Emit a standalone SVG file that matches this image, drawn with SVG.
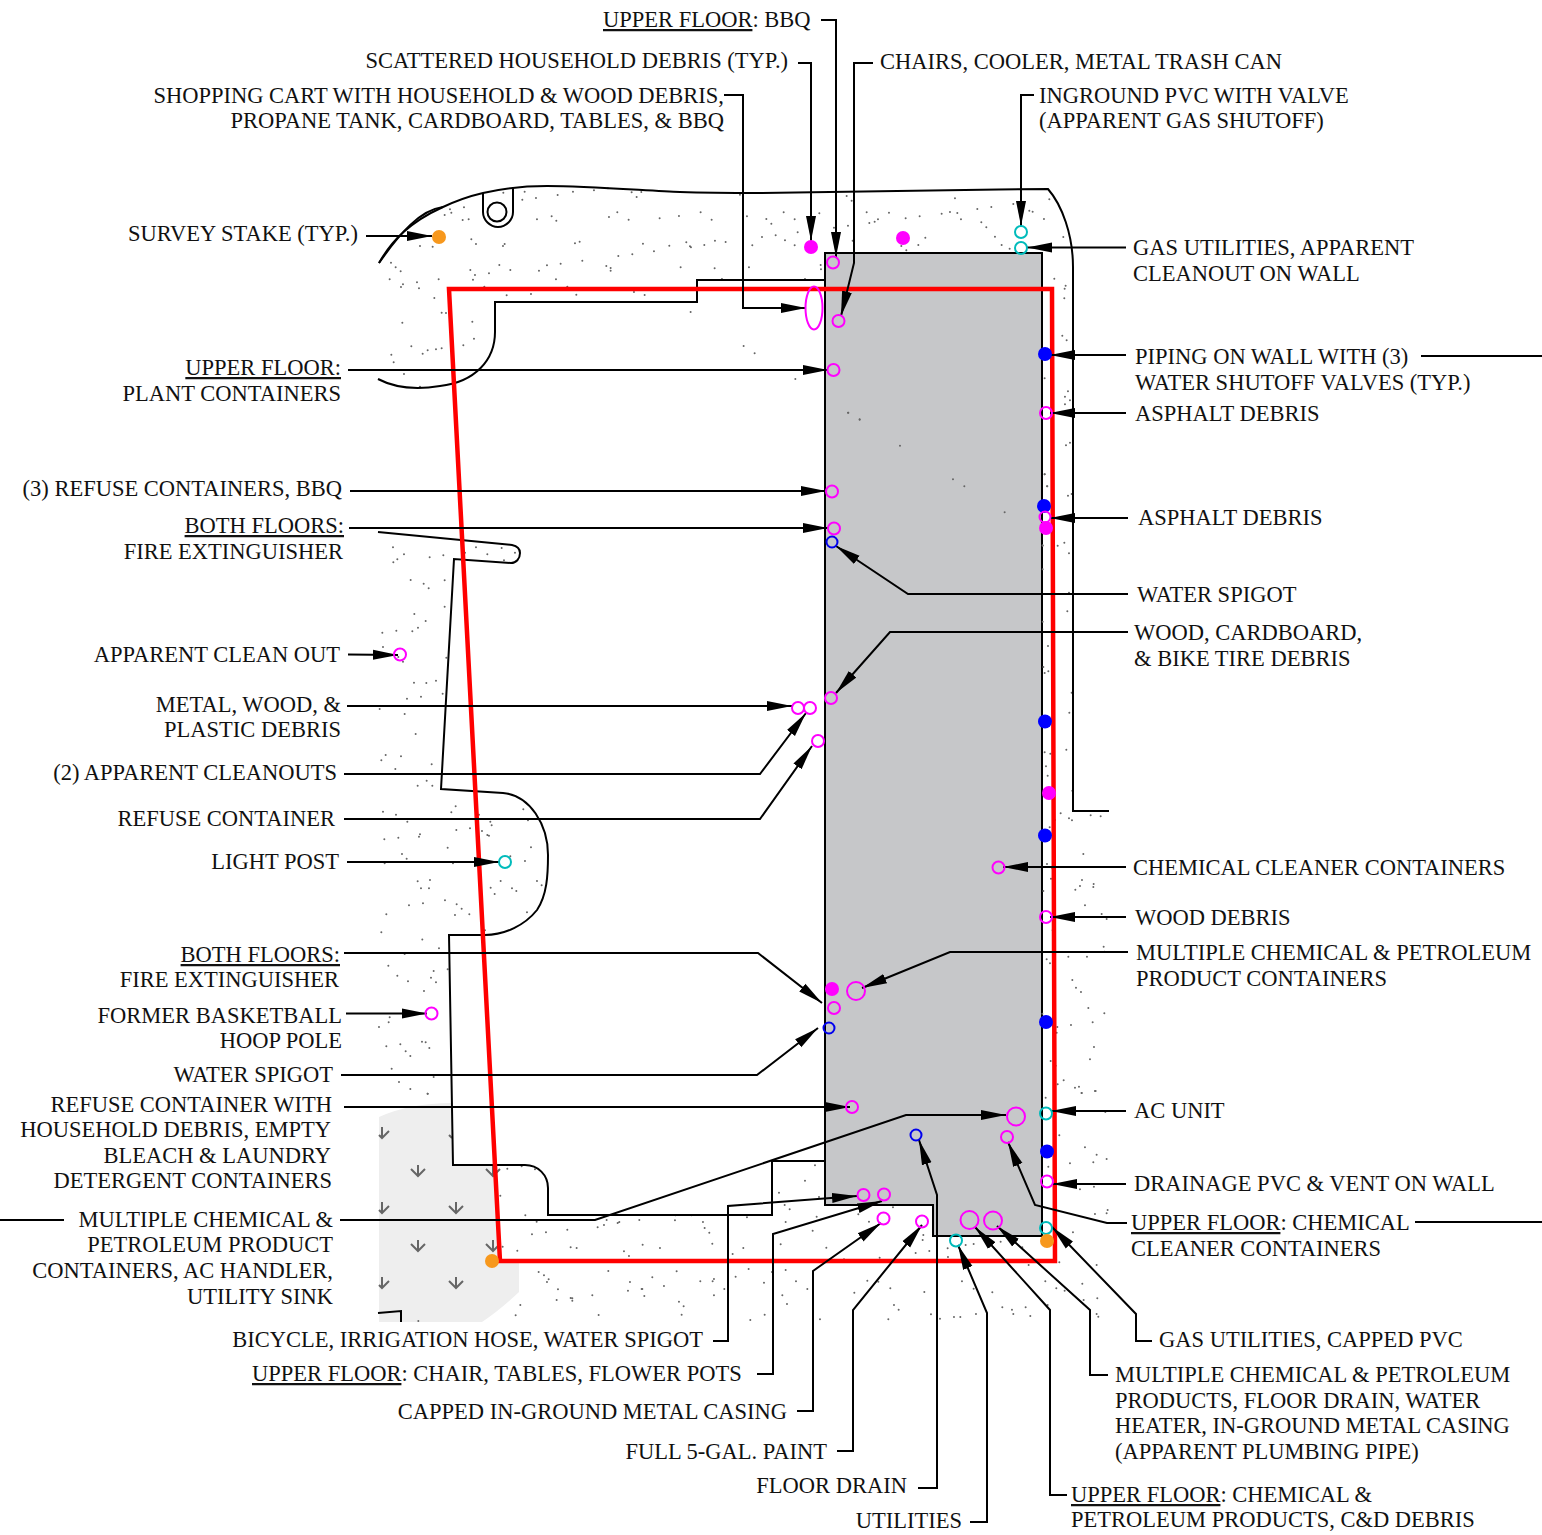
<svg xmlns="http://www.w3.org/2000/svg" width="1542" height="1535" viewBox="0 0 1542 1535">
<style>
text{font-family:"Liberation Serif","Times New Roman",serif;font-size:22.5px;fill:#111}
.e{text-anchor:end}
.u{text-decoration:underline}
.ln{fill:none;stroke:#000;stroke-width:2}
.ar{fill:none;stroke:#000;stroke-width:2;marker-end:url(#ah)}
.dg{fill:none;stroke:#666;stroke-width:6;stroke-linecap:round}
.ga{fill:none;stroke:#666;stroke-width:2}
.m{fill:none;stroke:#f0f;stroke-width:2}
.t{fill:none;stroke:#0bb;stroke-width:2}
.b{fill:none;stroke:#00e;stroke-width:2}
.mf{fill:#f0f}.bf{fill:#00f}.of{fill:#f7981d}
</style>
<defs>
<marker id="ah" markerUnits="userSpaceOnUse" markerWidth="26" markerHeight="12" refX="25" refY="6" orient="auto"><path d="M0,1 L25,6 L0,11 Z" fill="#000"/></marker>
</defs>
<g id="site">
<path d="M825,253H1042V1236H933V1205H825Z" fill="#c6c7c9" stroke="#000" stroke-width="2"/>
<path d="M379,1117Q410,1103 452,1103V1165H495L500,1261H519V1292Q500,1310 482,1322H379Z" fill="#eee"/>
<path class="ga" d="M382,1127V1138M379,1135L382,1138L389,1131M418,1165V1176M411,1169L418,1176L425,1169M493,1165V1176M486,1169L493,1176L500,1169M382,1202V1213M379,1210L382,1213L389,1206M456,1202V1213M449,1206L456,1213L463,1206M418,1240V1251M411,1244L418,1251L425,1244M493,1240V1251M486,1244L493,1251L500,1244M382,1277V1288M379,1285L382,1288L389,1281M456,1277V1288M449,1281L456,1288L463,1281M449,1135L452,1138"/>
<path class="dg" transform="translate(360,170) scale(.3333)" d="M430,68h0M494,65h0M487,89h0M528,84h0M593,75h0M639,65h0M702,61h0M744,55h0M815,67h0M844,66h0M830,81h0M1140,74h0M1161,139h0M270,118h0M312,112h0M274,128h0M254,135h0M308,150h0M326,148h0M531,148h0M575,139h0M589,152h0M747,141h0M772,127h0M806,149h0M899,145h0M957,138h0M1022,127h0M1055,149h0M334,208h0M348,222h0M180,228h0M218,230h0M429,228h0M434,222h0M645,220h0M659,215h0M849,221h0M979,217h0M990,229h0M993,232h0M1033,225h0M1065,212h0M1097,216h0M1177,226h0M928,227h0M882,244h0M817,253h0M775,258h0M667,272h0M602,281h0M561,286h0M537,302h0M451,300h0M418,285h0M387,310h0M331,300h0M345,315h0M339,329h0M236,328h0M93,278h0M107,292h0M122,304h0M89,328h0M129,343h0M123,351h0M171,337h0M177,355h0M223,384h0M588,328h0M739,288h0M752,294h0M752,302h0M962,292h0M1064,295h0M1167,292h0M1086,327h0M373,350h0M622,350h0M440,376h0M513,372h0M649,374h0M822,366h0M854,375h0M992,426h0M245,428h0M258,429h0M127,458h0M337,455h0M342,506h0M310,526h0M154,529h0M245,535h0M228,538h0M203,541h0M188,551h0M94,554h0M101,577h0M132,612h0M180,650h0M1151,528h0M1184,550h0"/>
<path class="dg" transform="translate(760,170) scale(.3333)" d="M260,78h0M275,92h0M71,127h0M178,130h0M19,147h0M34,161h0M104,148h0M113,187h0M47,196h0M6,201h0M75,211h0M104,226h0M222,173h0M264,167h0M278,212h0M182,285h0M183,298h0M135,327h0M320,127h0M387,128h0M328,159h0M344,155h0M354,148h0M437,145h0M479,139h0M545,131h0M570,126h0M592,129h0M603,148h0M652,117h0M694,111h0M585,85h0M760,102h0M808,122h0M818,125h0M852,147h0M868,88h0M664,157h0M679,172h0M705,200h0M725,225h0M749,236h0M910,201h0M496,203h0M475,225h0M424,228h0M439,241h0M883,326h0M917,347h0M914,356h0M913,385h0M907,497h0M920,511h0M854,625h0M924,664h0M915,680h0M930,691h0M915,703h0M106,627h0M264,728h0M299,748h0"/>
<path class="dg" transform="translate(360,1090) scale(.3333)" d="M203,11h0M442,236h0M485,229h0M525,238h0M421,317h0M496,376h0M530,395h0M622,419h0M516,433h0M558,427h0M740,390h0M732,405h0M713,412h0M773,399h0M778,396h0M838,390h0M945,391h0M947,376h0M994,376h0M1029,396h0M1034,414h0M1048,428h0M1057,461h0M1161,382h0M1118,492h0M1150,474h0M900,474h0M848,464h0M792,484h0M807,498h0M632,472h0M650,474h0M472,482h0M428,470h0M536,546h0M552,556h0M566,568h0M561,576h0M594,598h0M590,630h0M632,624h0M637,625h0M637,632h0M697,616h0M745,543h0M810,576h0M804,602h0M845,597h0M847,597h0M853,618h0M877,562h0M912,588h0M950,544h0M957,635h0M971,649h0M965,674h0M1021,574h0M1058,574h0M1062,567h0M1093,597h0M1062,616h0M1127,560h0M1166,537h0M1171,690h0M716,675h0M481,645h0M467,676h0M175,693h0"/>
<path class="dg" transform="translate(760,1090) scale(.3333)" d="M165,226h0M135,272h0M57,308h0M177,321h0M74,345h0M89,358h0M170,380h0M77,396h0M295,373h0M327,395h0M399,352h0M158,422h0M62,463h0M199,473h0M359,503h0M293,511h0M252,508h0M467,489h0M490,435h0M488,450h0M508,483h0M563,475h0M564,501h0M617,465h0M641,462h0M722,455h0M765,443h0M787,472h0M806,525h0M898,517h0M939,427h0M1005,372h0M1040,370h0M1043,360h0M975,172h0M1010,194h0M1040,207h0M1000,217h0M930,220h0M865,230h0M898,136h0M965,9h0M1005,3h0M960,298h0M1002,290h0M77,540h0M36,546h0M108,574h0M12,578h0M142,597h0M67,616h0M81,642h0M14,674h0M180,688h0M322,572h0M355,575h0M283,608h0M391,595h0M402,645h0M416,659h0M385,688h0M493,606h0M513,673h0M540,686h0M582,681h0M601,681h0M606,574h0M641,596h0M697,607h0M648,672h0M727,652h0M756,659h0M760,672h0M797,652h0M811,678h0M856,574h0M889,595h0M914,602h0M967,581h0M971,630h0M1012,625h0M1010,525h0M863,645h0M1010,672h0M1015,680h0"/>
<path class="dg" transform="translate(370,520) scale(.3333)" d="M69,82h0M102,103h0M82,118h0M70,127h0M179,112h0M220,106h0M285,98h0M318,82h0M352,103h0M395,84h0M435,98h0M402,121h0M122,180h0M161,191h0M176,205h0M224,181h0M224,260h0M133,282h0M167,303h0M144,323h0M127,334h0M79,332h0M37,338h0M39,381h0M85,411h0M99,425h0M229,413h0M198,482h0M169,489h0M132,488h0M218,521h0M153,530h0M111,536h0M29,567h0M104,582h0M137,642h0M47,705h0M34,721h0M93,709h0M76,747h0M185,733h0M170,782h0M143,797h0M187,797h0M39,875h0M78,884h0M112,905h0M244,877h0M257,859h0M327,884h0M361,905h0M365,916h0M460,868h0M474,901h0M300,925h0M259,930h0M336,933h0M352,945h0M357,947h0M43,958h0M85,953h0M147,950h0M150,943h0M233,983h0M483,982h0M96,1002h0M110,1016h0M44,1030h0M249,1030h0M421,1009h0M465,1023h0M143,1084h0M180,1080h0M153,1105h0M177,1105h0M392,1083h0M362,1103h0M374,1122h0M426,1105h0M439,1113h0M501,1083h0M515,1096h0M225,1141h0M117,1156h0M159,1150h0M260,1153h0M275,1166h0M255,1185h0M298,1183h0M49,1183h0M471,1177h0M34,1237h0M345,1231h0M157,1259h0M207,1285h0M104,1300h0"/>
<path class="dg" transform="translate(1000,720) scale(.3333)" d="M199,89h0M134,97h0M151,101h0M138,139h0M143,167h0M217,212h0M182,280h0M165,300h0M207,295h0M216,301h0M272,286h0M302,289h0M149,322h0M250,402h0M141,432h0M157,445h0M153,476h0M246,480h0M240,498h0M226,509h0M281,492h0M280,501h0M130,513h0M255,556h0M305,582h0M320,597h0M158,631h0M311,680h0M314,695h0M140,718h0M150,730h0M205,710h0M261,710h0M163,784h0M217,780h0M228,803h0M243,816h0M265,864h0M313,880h0M127,881h0M278,907h0M213,915h0M172,921h0M170,938h0M163,903h0M282,981h0M270,1018h0M152,1023h0M167,1037h0M173,1093h0M191,1081h0M225,1103h0M237,1100h0M245,1119h0M287,1113h0M137,1133h0M275,1173h0M316,1176h0"/>
<path class="dg" transform="translate(370,950) scale(.3333)" d="M104,12h0M55,47h0M82,77h0M114,94h0M191,63h0M233,58h0M183,83h0M198,97h0M162,123h0M59,202h0M56,217h0M27,231h0M49,289h0M91,283h0M107,304h0M121,318h0M156,275h0M167,277h0M178,294h0M65,356h0M191,381h0M87,396h0M121,417h0M173,431h0"/>
<path class="dg" transform="translate(1040,410) scale(.3333)" d="M78,106h0M90,98h0M14,193h0M21,229h0M84,257h0M95,252h0M8,407h0M53,407h0M73,398h0M87,430h0M8,478h0M87,548h0M40,609h0M82,604h0M8,635h0M24,708h0M10,771h0M14,789h0M25,784h0M95,848h0M88,908h0"/>
<path class="dg" transform="translate(820,400) scale(.3333)" d="M85,38h0M119,59h0M240,137h0M399,238h0M433,259h0M554,337h0M674,223h0M682,259h0M668,436h0"/>
<path class="ln" d="M379,263C400,233 420,210 443,207"/>
<path class="ln" d="M379,263C392,240 410,222 443,207C460,199 470,196 483,193C500,189 520,186 547,186C590,186 650,191 680,192C710,193 730,193 760,193C850,192 950,190 1048,189C1062,205 1073,235 1073,267V811H1109"/>
<path class="ln" d="M483,193V212C483,220 490,227 498,227C506,227 513,220 513,212V188"/>
<circle class="ln" cx="497" cy="212" r="9.5"/>
<path class="ln" d="M825,280H697V302H495V332C495,360 475,382 440,386C415,390 395,388 378,379"/>
<path class="ln" d="M378,532L512,545C517,546 520,549 520,553C520,559 516,563 511,563L454,559L441,789L503,793C530,795 548,825 548,855C548,875 547,895 537,910C525,925 505,935 485,935H449L453,1165H525C538,1165 548,1175 548,1188V1215H772V1161H825"/>
<path class="ln" d="M378,1313L401,1311V1322"/>
<path d="M449,289H1052L1055,1261H500Z" fill="none" stroke="#f00" stroke-width="4.5"/>
</g>
<g id="connectors">
<path class="ar" d="M821,20H836V257"/>
<path class="ar" d="M798,63H811V241"/>
<path class="ar" d="M873,63H854V263L841,316"/>
<path class="ar" d="M724,95H743V308H806"/>
<path class="ar" d="M1034,95H1021V226"/>
<path class="ar" d="M1126,247.500H1027"/>
<path class="ar" d="M1126,355H1050"/>
<path class="ln" d="M1421,356H1542"/>
<path class="ar" d="M1126,413H1050"/>
<path class="ar" d="M348,370H828"/>
<path class="ar" d="M350,491H826"/>
<path class="ar" d="M349,528H828"/>
<path class="ar" d="M1128,518H1050"/>
<path class="ar" d="M1128,594H908L836,546"/>
<path class="ar" d="M1128,632H890L836,693"/>
<path class="ar" d="M348,654.500L398,655"/>
<path class="ar" d="M347,706H792"/>
<path class="ar" d="M344,774H760L806,713"/>
<path class="ar" d="M344,819H760L812,746"/>
<path class="ar" d="M347,862H499"/>
<path class="ar" d="M1126,867H1003"/>
<path class="ar" d="M1126,917H1050"/>
<path class="ar" d="M1128,952H950L862,988"/>
<path class="ar" d="M344,953H758L822,1003"/>
<path class="ar" d="M346,1013.500H427"/>
<path class="ar" d="M341,1075H757L818,1028"/>
<path class="ar" d="M344,1107H850"/>
<path class="ar" d="M1126,1111H1051"/>
<path class="ln" d="M0,1220H64"/>
<path class="ar" d="M340,1220H595L906,1115H1006"/>
<path class="ar" d="M1126,1184H1052"/>
<path class="ar" d="M1127,1223H1107L1035,1205L1008,1142"/>
<path class="ln" d="M1415,1222H1542"/>
<path class="ar" d="M1152,1341H1136V1314L1052,1227"/>
<path class="ar" d="M1108,1375H1090V1310L997,1226"/>
<path class="ar" d="M1067,1495H1050V1310L975,1227"/>
<path class="ar" d="M970,1522H987V1313L958,1245"/>
<path class="ar" d="M918,1488H937V1195L919,1140"/>
<path class="ar" d="M837,1451H853V1310L922,1225"/>
<path class="ar" d="M797,1411H813V1271L881,1223"/>
<path class="ar" d="M757,1374H773V1234L882,1201"/>
<path class="ar" d="M713,1341H728V1206L857,1196"/>
<path class="ar" d="M366,236H432"/>
</g>
<g id="sym-1"><circle class="m" cx="833" cy="262.500" r="6"/></g>
<g id="sym-2"><circle class="m" cx="838.500" cy="321" r="6"/></g>
<g id="sym-3"><circle class="m" cx="833.500" cy="370" r="6"/></g>
<g id="sym-4"><ellipse class="m" cx="814" cy="308" rx="8.500" ry="21.500"/></g>
<g id="sym-5"><circle class="mf" cx="811" cy="247" r="7"/></g>
<g id="sym-6"><circle class="mf" cx="903" cy="238" r="7"/></g>
<g id="sym-7"><circle class="t" cx="1021" cy="232" r="6"/></g>
<g id="sym-8"><circle class="t" cx="1021" cy="248" r="6"/></g>
<g id="sym-9"><circle class="bf" cx="1045" cy="354" r="7"/></g>
<g id="sym-10"><circle class="m" cx="1046" cy="413" r="6"/></g>
<g id="sym-11"><circle class="m" cx="832" cy="491.500" r="6"/></g>
<g id="sym-12"><circle class="m" cx="834" cy="528.500" r="6"/></g>
<g id="sym-13"><circle class="b" cx="832" cy="542" r="5.500"/></g>
<g id="sym-14"><circle class="bf" cx="1044" cy="506" r="7"/></g>
<g id="sym-15"><circle class="m" cx="1045" cy="517" r="5.500"/></g>
<g id="sym-16"><circle class="mf" cx="1046" cy="528" r="7"/></g>
<g id="sym-17"><circle class="m" cx="400" cy="654.500" r="6"/></g>
<g id="sym-18"><circle class="m" cx="798" cy="708" r="6"/></g>
<g id="sym-19"><circle class="m" cx="810" cy="708" r="6"/></g>
<g id="sym-20"><circle class="m" cx="831" cy="698" r="6"/></g>
<g id="sym-21"><circle class="m" cx="818" cy="741" r="6"/></g>
<g id="sym-22"><circle class="bf" cx="1045" cy="721.500" r="7"/></g>
<g id="sym-23"><circle class="mf" cx="1049" cy="793" r="7"/></g>
<g id="sym-24"><circle class="bf" cx="1045" cy="835.500" r="7"/></g>
<g id="sym-25"><circle class="m" cx="998.500" cy="867.500" r="6"/></g>
<g id="sym-26"><circle class="m" cx="1046" cy="917" r="6"/></g>
<g id="sym-27"><circle class="t" cx="505" cy="862" r="6"/></g>
<g id="sym-28"><circle class="mf" cx="832" cy="989" r="7"/></g>
<g id="sym-29"><circle class="m" cx="856" cy="991" r="9"/></g>
<g id="sym-30"><circle class="m" cx="834" cy="1008" r="6"/></g>
<g id="sym-31"><circle class="b" cx="829" cy="1028" r="5.500"/></g>
<g id="sym-32"><circle class="m" cx="431.500" cy="1013.500" r="6"/></g>
<g id="sym-33"><circle class="bf" cx="1046" cy="1022" r="7"/></g>
<g id="sym-34"><circle class="m" cx="852" cy="1107" r="6"/></g>
<g id="sym-35"><circle class="m" cx="1016" cy="1116.500" r="9"/></g>
<g id="sym-36"><circle class="b" cx="916" cy="1135" r="5.500"/></g>
<g id="sym-37"><circle class="m" cx="1007" cy="1137" r="6"/></g>
<g id="sym-38"><circle class="t" cx="1046" cy="1113.500" r="6"/></g>
<g id="sym-39"><circle class="bf" cx="1047" cy="1151.500" r="7"/></g>
<g id="sym-40"><circle class="m" cx="1047" cy="1181.500" r="6"/></g>
<g id="sym-41"><circle class="m" cx="863.500" cy="1195" r="6"/></g>
<g id="sym-42"><circle class="m" cx="884" cy="1194.500" r="6"/></g>
<g id="sym-43"><circle class="m" cx="883.500" cy="1218.500" r="6"/></g>
<g id="sym-44"><circle class="m" cx="922" cy="1221.500" r="6"/></g>
<g id="sym-45"><circle class="m" cx="969.500" cy="1220" r="9"/></g>
<g id="sym-46"><circle class="m" cx="993" cy="1220.500" r="9"/></g>
<g id="sym-47"><circle class="t" cx="956" cy="1240.500" r="6"/></g>
<g id="sym-48"><circle class="t" cx="1046" cy="1228" r="6"/></g>
<g id="sym-49"><circle class="of" cx="1047" cy="1241" r="7"/></g>
<g id="sym-50"><circle class="of" cx="439" cy="237" r="7"/></g>
<g id="sym-51"><circle class="of" cx="492" cy="1261" r="7"/></g>
<g id="labels">
<g id="l1"><text x="603" y="27"><tspan class="u">UPPER FLOOR</tspan>: BBQ</text></g>
<g id="l2"><text class="e" x="788" y="68">SCATTERED HOUSEHOLD DEBRIS (TYP.)</text></g>
<g id="l3"><text x="880" y="69">CHAIRS, COOLER, METAL TRASH CAN</text></g>
<g id="l4"><text class="e" x="724" y="103">SHOPPING CART WITH HOUSEHOLD &amp; WOOD DEBRIS,</text><text class="e" x="724" y="128">PROPANE TANK, CARDBOARD, TABLES, &amp; BBQ</text></g>
<g id="l5"><text x="1039" y="103">INGROUND PVC WITH VALVE</text><text x="1039" y="128">(APPARENT GAS SHUTOFF)</text></g>
<g id="l6"><text class="e" x="358" y="241">SURVEY STAKE (TYP.)</text></g>
<g id="l7"><text x="1133" y="255">GAS UTILITIES, APPARENT</text><text x="1133" y="281">CLEANOUT ON WALL</text></g>
<g id="l8"><text x="1135" y="364">PIPING ON WALL WITH (3)</text><text x="1135" y="390">WATER SHUTOFF VALVES (TYP.)</text></g>
<g id="l9"><text x="1135" y="421">ASPHALT DEBRIS</text></g>
<g id="l10"><text class="e" x="341" y="375"><tspan class="u">UPPER FLOOR:</tspan></text><text class="e" x="341" y="401">PLANT CONTAINERS</text></g>
<g id="l11"><text class="e" x="342" y="496">(3) REFUSE CONTAINERS, BBQ</text></g>
<g id="l12"><text class="e" x="344" y="533"><tspan class="u">BOTH FLOORS:</tspan></text><text class="e" x="343" y="559">FIRE EXTINGUISHER</text></g>
<g id="l13"><text x="1138" y="525">ASPHALT DEBRIS</text></g>
<g id="l14"><text x="1137" y="602">WATER SPIGOT</text></g>
<g id="l15"><text x="1134" y="640">WOOD, CARDBOARD,</text><text x="1134" y="666">&amp; BIKE TIRE DEBRIS</text></g>
<g id="l16"><text class="e" x="340" y="662">APPARENT CLEAN OUT</text></g>
<g id="l17"><text class="e" x="341" y="712">METAL, WOOD, &amp;</text><text class="e" x="341" y="737">PLASTIC DEBRIS</text></g>
<g id="l18"><text class="e" x="337" y="780">(2) APPARENT CLEANOUTS</text></g>
<g id="l19"><text class="e" x="335" y="826">REFUSE CONTAINER</text></g>
<g id="l20"><text class="e" x="339" y="869">LIGHT POST</text></g>
<g id="l21"><text x="1133" y="875">CHEMICAL CLEANER CONTAINERS</text></g>
<g id="l22"><text x="1135" y="925">WOOD DEBRIS</text></g>
<g id="l23"><text x="1136" y="960">MULTIPLE CHEMICAL &amp; PETROLEUM</text><text x="1136" y="986">PRODUCT CONTAINERS</text></g>
<g id="l24"><text class="e" x="340" y="962"><tspan class="u">BOTH FLOORS:</tspan></text><text class="e" x="339" y="987">FIRE EXTINGUISHER</text></g>
<g id="l25"><text class="e" x="342" y="1023">FORMER BASKETBALL</text><text class="e" x="342" y="1048">HOOP POLE</text></g>
<g id="l26"><text class="e" x="333" y="1082">WATER SPIGOT</text></g>
<g id="l27"><text class="e" x="332" y="1112">REFUSE CONTAINER WITH</text><text class="e" x="331" y="1137">HOUSEHOLD DEBRIS, EMPTY</text><text class="e" x="331" y="1163">BLEACH &amp; LAUNDRY</text><text class="e" x="332" y="1188">DETERGENT CONTAINERS</text></g>
<g id="l28"><text class="e" x="333" y="1227">MULTIPLE CHEMICAL &amp;</text><text class="e" x="333" y="1252">PETROLEUM PRODUCT</text><text class="e" x="333" y="1278">CONTAINERS, AC HANDLER,</text><text class="e" x="333" y="1304">UTILITY SINK</text></g>
<g id="l29"><text x="1134" y="1118">AC UNIT</text></g>
<g id="l30"><text x="1134" y="1191">DRAINAGE PVC &amp; VENT ON WALL</text></g>
<g id="l31"><text x="1131" y="1230"><tspan class="u">UPPER FLOOR</tspan>: CHEMICAL</text><text x="1131" y="1256">CLEANER CONTAINERS</text></g>
<g id="l32"><text x="1159" y="1347">GAS UTILITIES, CAPPED PVC</text></g>
<g id="l33"><text class="e" x="703" y="1347">BICYCLE, IRRIGATION HOSE, WATER SPIGOT</text></g>
<g id="l34"><text x="252" y="1381"><tspan class="u">UPPER FLOOR</tspan>: CHAIR, TABLES, FLOWER POTS</text></g>
<g id="l35"><text class="e" x="787" y="1419">CAPPED IN-GROUND METAL CASING</text></g>
<g id="l36"><text class="e" x="827" y="1459">FULL 5-GAL. PAINT</text></g>
<g id="l37"><text class="e" x="907" y="1493">FLOOR DRAIN</text></g>
<g id="l38"><text class="e" x="962" y="1528">UTILITIES</text></g>
<g id="l39"><text x="1115" y="1382">MULTIPLE CHEMICAL &amp; PETROLEUM</text><text x="1115" y="1408">PRODUCTS, FLOOR DRAIN, WATER</text><text x="1115" y="1433">HEATER, IN-GROUND METAL CASING</text><text x="1115" y="1459">(APPARENT PLUMBING PIPE)</text></g>
<g id="l40"><text x="1071" y="1502"><tspan class="u">UPPER FLOOR</tspan>: CHEMICAL &amp;</text><text x="1071" y="1527">PETROLEUM PRODUCTS, C&amp;D DEBRIS</text></g>
</g>
</svg>
